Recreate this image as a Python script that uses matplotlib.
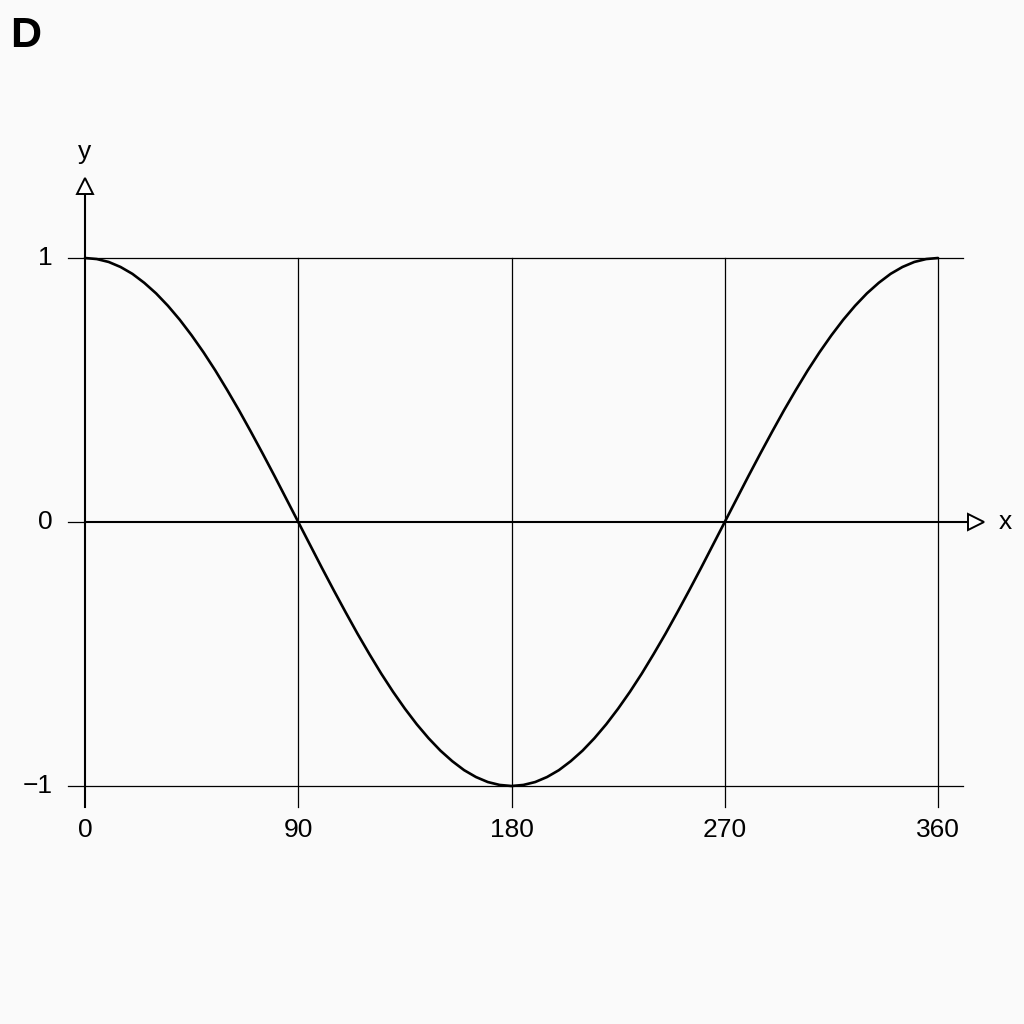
import matplotlib.pyplot as plt

plt.rcParams['font.family'] = ['Liberation Sans', 'DejaVu Sans']

# curve, every 5 degrees
x_deg = list(range(0, 365, 5))
y_val = [1.0, 0.996, 0.985, 0.966, 0.94, 0.906, 0.866, 0.819, 0.766, 0.707, 0.643, 0.574,
         0.5, 0.423, 0.342, 0.259, 0.174, 0.087, 0.0, -0.087, -0.174, -0.259, -0.342, -0.423,
         -0.5, -0.574, -0.643, -0.707, -0.766, -0.819, -0.866, -0.906, -0.94, -0.966, -0.985, -0.996,
         -1.0, -0.996, -0.985, -0.966, -0.94, -0.906, -0.866, -0.819, -0.766, -0.707, -0.643, -0.574,
         -0.5, -0.423, -0.342, -0.259, -0.174, -0.087, 0.0, 0.087, 0.174, 0.259, 0.342, 0.423,
         0.5, 0.574, 0.643, 0.707, 0.766, 0.819, 0.866, 0.906, 0.94, 0.966, 0.985, 0.996, 1.0]

x_ticks = [0, 90, 180, 270, 360]
x_tick_labels = ['0', '90', '180', '270', '360']
y_ticks = [1, 0, -1]
y_tick_labels = ['1', '0', '\u22121']

bg = '#fafafa'
fig = plt.figure(figsize=(10.24, 10.24), dpi=100, facecolor=bg)
ax = fig.add_axes([0, 0, 1, 1])
ax.set_facecolor(bg)
ax.axis('off')

# pixel mapping: x=0 -> 85px, x=360 -> 938px ; y=1 -> 258px, y=-1 -> 786px
sx = (938 - 85) / 360
sy = (786 - 258) / 2
ax.set_xlim(-85 / sx, (1024 - 85) / sx)
ax.set_ylim(-1 - (1024 - 786) / sy, 1 + 258 / sy)

lw_grid = 0.9
lw_axis = 1.5
y_bottom = -1 - 21 / sy
x_right_grid = (963 - 85) / sx
x_left_tick = -17 / sx

# horizontal lines at 1 and -1
for yv in [1, -1]:
    ax.plot([x_left_tick, x_right_grid], [yv, yv], color='black', lw=lw_grid, zorder=1)

# vertical grid lines
for xv in x_ticks[1:]:
    ax.plot([xv, xv], [1, y_bottom], color='black', lw=lw_grid, zorder=1)

# y axis with hollow arrow
y_arrow = 1 + (258 - 186) / sy
ax.plot([0, 0], [y_bottom, y_arrow], color='black', lw=lw_axis, zorder=2)
ax.plot([0], [y_arrow], marker='^', ms=11, mfc='white', mec='black', mew=1.4, zorder=3)
ax.plot([x_left_tick, 0], [0, 0], color='black', lw=lw_grid, zorder=1)

# x axis with hollow arrow
x_arrow = (976 - 85) / sx
ax.plot([0, x_arrow], [0, 0], color='black', lw=lw_axis, zorder=2)
ax.plot([x_arrow], [0], marker='>', ms=11, mfc='white', mec='black', mew=1.4, zorder=3)

# curve
ax.plot(x_deg, y_val, color='black', lw=1.9, zorder=4, solid_capstyle='round',
        solid_joinstyle='round')

# labels
for xv, lab in zip(x_ticks, x_tick_labels):
    ax.text(xv, -1 - 44 / sy, lab, ha='center', va='center', fontsize=19)
for yv, lab in zip(y_ticks, y_tick_labels):
    ax.text(-32 / sx, yv, lab, ha='right', va='center', fontsize=19)

ax.text(0, 1 + (258 - 152) / sy, 'y', ha='center', va='center', fontsize=19)
ax.text((1005 - 85) / sx, 0, 'x', ha='center', va='center', fontsize=19)

fig.text(10 / 1024, 1 - 36 / 1024, 'D', ha='left', va='center', fontsize=31, fontweight='bold')

fig.savefig('out.png', dpi=100, facecolor=bg)
